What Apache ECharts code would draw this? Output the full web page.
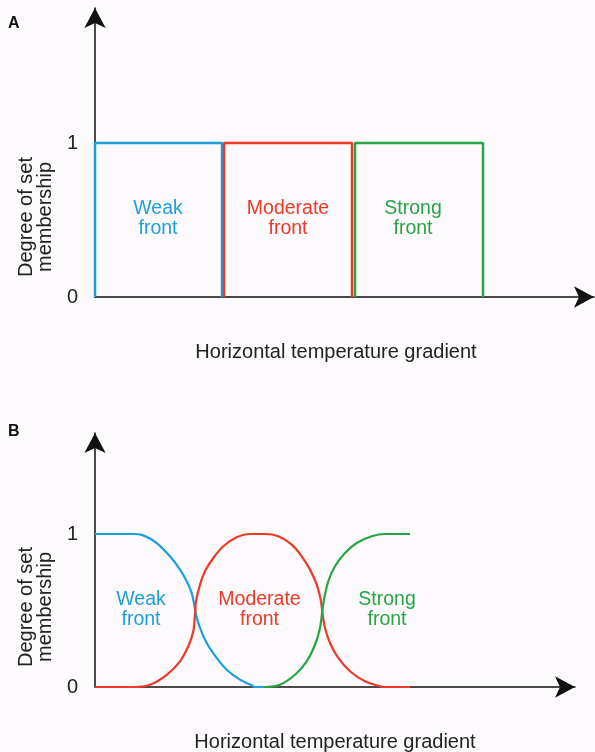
<!DOCTYPE html>
<html>
<head>
<meta charset="utf-8">
<script src="https://cdn.jsdelivr.net/npm/echarts@6/dist/echarts.min.js"></script>
<style>
  html, body { margin: 0; padding: 0; background: #fcfafc; }
  #main { width: 595px; height: 752px; }
</style>
</head>
<body>
<div id="main"></div>
<script>
// x in arbitrary gradient units, y = degree of set membership
// panel A: crisp sets (open rectangles)
var weakA = [[0, 0], [0, 1], [25.4, 1], [25.4, 0]];
var moderateA = [[25.8, 0], [25.8, 1], [51.4, 1], [51.4, 0]];
var strongA = [[52.0, 0], [52.0, 1], [77.6, 1], [77.6, 0]];

// panel B: fuzzy sets
var weakB = [[0, 1], [7.6, 1], [9.66, 0.991], [12.34, 0.941], [15.0, 0.854], [17.0, 0.767],
  [18.34, 0.691], [19.34, 0.614], [19.86, 0.538], [20.2, 0.473], [21.0, 0.386],
  [22.34, 0.288], [24.34, 0.190], [26.34, 0.113], [29.0, 0.048], [31.34, 0.011],
  [32.0, 0], [33.8, 0]];
var moderateB = [[0, 0], [7.6, 0], [11.0, 0.015], [14.34, 0.080], [17.0, 0.168], [18.66, 0.266],
  [19.66, 0.364], [20.0, 0.473], [20.2, 0.560], [21.0, 0.669], [22.0, 0.756],
  [23.66, 0.843], [25.66, 0.920], [28.34, 0.978], [31.0, 1], [34.0, 1],
  [36.66, 0.985], [39.34, 0.930], [41.34, 0.854], [43.0, 0.767], [44.34, 0.669],
  [45.14, 0.571], [45.54, 0.473], [46.0, 0.386], [47.0, 0.288], [48.66, 0.190],
  [51.0, 0.103], [54.0, 0.037], [57.0, 0.005], [58.0, 0], [63.0, 0]];
var strongB = [[33.8, 0], [37.0, 0.015], [40.0, 0.080], [42.34, 0.168], [44.0, 0.276],
  [45.0, 0.386], [45.46, 0.495], [45.86, 0.582], [46.66, 0.691], [48.0, 0.789],
  [50.0, 0.876], [52.34, 0.941], [55.34, 0.985], [58.0, 1], [63.0, 1]];

var labelsA = [[12.6, 0.506, 'Weak\nfront'], [38.6, 0.506, 'Moderate\nfront'], [63.6, 0.506, 'Strong\nfront']];
var labelsB = [[9.2, 0.503, 'Weak\nfront'], [32.9, 0.503, 'Moderate\nfront'], [58.4, 0.503, 'Strong\nfront']];

var colors = ['#1d9fdb', '#ec3a26', '#27a544'];
var xName = 'Horizontal temperature gradient';
var yName = 'Degree of set\nmembership';
var font = 'Liberation Sans, Arial, sans-serif';

var myChart = echarts.init(document.getElementById('main'));

function makeX(idx, max, shift) {
  return {
    type: 'value', gridIndex: idx, min: 0, max: max,
    name: xName, nameLocation: 'middle', nameGap: 45,
    nameTextStyle: { color: '#222', fontSize: 20, fontFamily: font, padding: [0, shift, 0, 0] },
    axisLine: { lineStyle: { color: '#111', width: 1.5 }, symbol: ['none', 'arrow'], symbolSize: [16, 20] },
    axisTick: { show: false }, axisLabel: { show: false }, splitLine: { show: false }
  };
}
function makeY(idx, max) {
  return {
    type: 'value', gridIndex: idx, min: 0, max: max, interval: 1,
    axisLine: { show: true, onZero: false, lineStyle: { color: '#111', width: 1.5 }, symbol: ['none', 'arrow'], symbolSize: [16, 20] },
    axisTick: { show: false }, splitLine: { show: false },
    axisLabel: {
      color: '#222', fontSize: 20, fontFamily: font, margin: 17,
      formatter: function (v) { return (v === 0 || v === 1) ? String(v) : ''; }
    }
  };
}
function lineSeries(idx, data, color, smooth) {
  return {
    type: 'line', xAxisIndex: idx, yAxisIndex: idx, data: data,
    showSymbol: false, symbol: 'none', smooth: smooth,
    lineStyle: { color: color, width: smooth ? 2.2 : 2.5 }, z: 3
  };
}
function labelSeries(idx, data) {
  return {
    type: 'scatter', xAxisIndex: idx, yAxisIndex: idx, symbolSize: 1,
    itemStyle: { color: 'rgba(0,0,0,0)', opacity: 1 },
    data: data.map(function (d, i) {
      return {
        value: d,
        label: {
          show: true, position: 'inside', formatter: function (p) { return p.value[2]; },
          color: colors[i], fontSize: 19.5, fontFamily: font, lineHeight: 20, align: 'center'
        }
      };
    })
  };
}

option = {
  backgroundColor: '#fcfafc',
  animation: false,
  grid: [
    { left: 95, top: 8, width: 499, height: 289, outerBoundsMode: 'none' },
    { left: 95, top: 433, width: 480, height: 254, outerBoundsMode: 'none' }
  ],
  xAxis: [makeX(0, 99.8, 17), makeX(1, 96, 0)],
  yAxis: [makeY(0, 1.877), makeY(1, 1.660)],
  graphic: [
    { type: 'text', x: 8, y: 16, style: { text: 'A', fontSize: 16, fontWeight: 'bold', fontFamily: font, fill: '#111' } },
    { type: 'text', x: 8, y: 424, style: { text: 'B', fontSize: 16, fontWeight: 'bold', fontFamily: font, fill: '#111' } },
    { type: 'text', x: 36, y: 217, rotation: Math.PI / 2,
      style: { text: yName, fontSize: 20, lineHeight: 19, fontFamily: font, fill: '#222', align: 'center', verticalAlign: 'middle' } },
    { type: 'text', x: 36, y: 607, rotation: Math.PI / 2,
      style: { text: yName, fontSize: 20, lineHeight: 19, fontFamily: font, fill: '#222', align: 'center', verticalAlign: 'middle' } }
  ],
  series: [
    lineSeries(0, weakA, colors[0], false),
    lineSeries(0, moderateA, colors[1], false),
    lineSeries(0, strongA, colors[2], false),
    lineSeries(1, weakB, colors[0], 0.3),
    lineSeries(1, moderateB, colors[1], 0.3),
    lineSeries(1, strongB, colors[2], 0.3),
    labelSeries(0, labelsA),
    labelSeries(1, labelsB)
  ]
};
myChart.setOption(option);
</script>
</body>
</html>
